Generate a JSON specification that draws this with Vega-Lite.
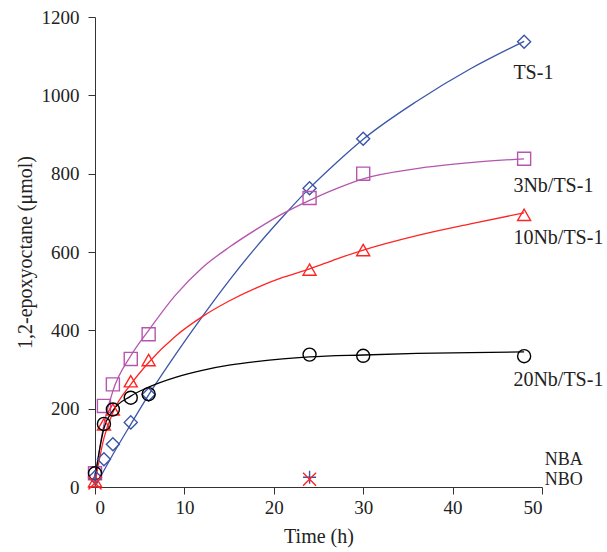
{
  "$schema": "https://vega.github.io/schema/vega-lite/v6.json",
  "width": 447,
  "height": 470,
  "autosize": {"type": "none"},
  "padding": {"left": 95, "top": 17, "right": 65, "bottom": 65},
  "background": "white",
  "config": {
    "view": {"stroke": null},
    "font": "Liberation Serif",
    "axis": {
      "grid": false,
      "domainColor": "#333333",
      "tickColor": "#333333",
      "tickSize": 7,
      "labelFont": "Liberation Serif",
      "titleFont": "Liberation Serif",
      "labelFontSize": 19,
      "titleFontSize": 20,
      "labelColor": "#222222",
      "titleColor": "#222222",
      "titleFontWeight": "normal"
    }
  },
  "datasets": {
    "pts": [
      {"series": "TS-1", "time": 0, "value": 25},
      {"series": "TS-1", "time": 1, "value": 71},
      {"series": "TS-1", "time": 2, "value": 109},
      {"series": "TS-1", "time": 4, "value": 165},
      {"series": "TS-1", "time": 6, "value": 236},
      {"series": "TS-1", "time": 24, "value": 763},
      {"series": "TS-1", "time": 30, "value": 889},
      {"series": "TS-1", "time": 48, "value": 1137},
      {"series": "3Nb/TS-1", "time": 0, "value": 35},
      {"series": "3Nb/TS-1", "time": 1, "value": 207},
      {"series": "3Nb/TS-1", "time": 2, "value": 262},
      {"series": "3Nb/TS-1", "time": 4, "value": 327},
      {"series": "3Nb/TS-1", "time": 6, "value": 390},
      {"series": "3Nb/TS-1", "time": 24, "value": 738},
      {"series": "3Nb/TS-1", "time": 30, "value": 800},
      {"series": "3Nb/TS-1", "time": 48, "value": 838},
      {"series": "10Nb/TS-1", "time": 0, "value": 15},
      {"series": "10Nb/TS-1", "time": 1, "value": 160},
      {"series": "10Nb/TS-1", "time": 2, "value": 198},
      {"series": "10Nb/TS-1", "time": 4, "value": 270},
      {"series": "10Nb/TS-1", "time": 6, "value": 324},
      {"series": "10Nb/TS-1", "time": 24, "value": 555},
      {"series": "10Nb/TS-1", "time": 30, "value": 605},
      {"series": "10Nb/TS-1", "time": 48, "value": 695},
      {"series": "20Nb/TS-1", "time": 0, "value": 35},
      {"series": "20Nb/TS-1", "time": 1, "value": 161},
      {"series": "20Nb/TS-1", "time": 2, "value": 198},
      {"series": "20Nb/TS-1", "time": 4, "value": 228},
      {"series": "20Nb/TS-1", "time": 6, "value": 237},
      {"series": "20Nb/TS-1", "time": 24, "value": 338},
      {"series": "20Nb/TS-1", "time": 30, "value": 335},
      {"series": "20Nb/TS-1", "time": 48, "value": 334},
      {"series": "NBA", "time": 0, "value": 20},
      {"series": "NBA", "time": 24, "value": 25},
      {"series": "NBO", "time": 0, "value": 10},
      {"series": "NBO", "time": 24, "value": 20}
    ],
    "fit": [
      {"series": "TS-1", "time": 0, "value": 0},
      {"series": "TS-1", "time": 1, "value": 42},
      {"series": "TS-1", "time": 2, "value": 83},
      {"series": "TS-1", "time": 4, "value": 160},
      {"series": "TS-1", "time": 6, "value": 235},
      {"series": "TS-1", "time": 9, "value": 338},
      {"series": "TS-1", "time": 12, "value": 435},
      {"series": "TS-1", "time": 15, "value": 527},
      {"series": "TS-1", "time": 18, "value": 612},
      {"series": "TS-1", "time": 21, "value": 690},
      {"series": "TS-1", "time": 24, "value": 763},
      {"series": "TS-1", "time": 27, "value": 828},
      {"series": "TS-1", "time": 30, "value": 888},
      {"series": "TS-1", "time": 36, "value": 985},
      {"series": "TS-1", "time": 42, "value": 1068},
      {"series": "TS-1", "time": 48, "value": 1138},
      {"series": "3Nb/TS-1", "time": 0, "value": 20},
      {"series": "3Nb/TS-1", "time": 1, "value": 160},
      {"series": "3Nb/TS-1", "time": 2, "value": 245},
      {"series": "3Nb/TS-1", "time": 4, "value": 335},
      {"series": "3Nb/TS-1", "time": 6, "value": 400},
      {"series": "3Nb/TS-1", "time": 9, "value": 490},
      {"series": "3Nb/TS-1", "time": 12, "value": 560},
      {"series": "3Nb/TS-1", "time": 15, "value": 612},
      {"series": "3Nb/TS-1", "time": 18, "value": 657},
      {"series": "3Nb/TS-1", "time": 21, "value": 698},
      {"series": "3Nb/TS-1", "time": 24, "value": 732},
      {"series": "3Nb/TS-1", "time": 27, "value": 762},
      {"series": "3Nb/TS-1", "time": 30, "value": 787},
      {"series": "3Nb/TS-1", "time": 36, "value": 813},
      {"series": "3Nb/TS-1", "time": 42, "value": 828},
      {"series": "3Nb/TS-1", "time": 48, "value": 838},
      {"series": "10Nb/TS-1", "time": 0, "value": 10},
      {"series": "10Nb/TS-1", "time": 1, "value": 125},
      {"series": "10Nb/TS-1", "time": 2, "value": 190},
      {"series": "10Nb/TS-1", "time": 4, "value": 262},
      {"series": "10Nb/TS-1", "time": 6, "value": 318},
      {"series": "10Nb/TS-1", "time": 9, "value": 385},
      {"series": "10Nb/TS-1", "time": 12, "value": 435},
      {"series": "10Nb/TS-1", "time": 15, "value": 475},
      {"series": "10Nb/TS-1", "time": 18, "value": 508},
      {"series": "10Nb/TS-1", "time": 21, "value": 535},
      {"series": "10Nb/TS-1", "time": 24, "value": 557},
      {"series": "10Nb/TS-1", "time": 27, "value": 582},
      {"series": "10Nb/TS-1", "time": 30, "value": 605},
      {"series": "10Nb/TS-1", "time": 36, "value": 642},
      {"series": "10Nb/TS-1", "time": 42, "value": 672},
      {"series": "10Nb/TS-1", "time": 48, "value": 700},
      {"series": "20Nb/TS-1", "time": 0, "value": 25},
      {"series": "20Nb/TS-1", "time": 1, "value": 150},
      {"series": "20Nb/TS-1", "time": 2, "value": 195},
      {"series": "20Nb/TS-1", "time": 4, "value": 232},
      {"series": "20Nb/TS-1", "time": 6, "value": 255},
      {"series": "20Nb/TS-1", "time": 9, "value": 280},
      {"series": "20Nb/TS-1", "time": 12, "value": 298},
      {"series": "20Nb/TS-1", "time": 15, "value": 311},
      {"series": "20Nb/TS-1", "time": 18, "value": 320},
      {"series": "20Nb/TS-1", "time": 21, "value": 327},
      {"series": "20Nb/TS-1", "time": 24, "value": 332},
      {"series": "20Nb/TS-1", "time": 30, "value": 337},
      {"series": "20Nb/TS-1", "time": 36, "value": 341},
      {"series": "20Nb/TS-1", "time": 42, "value": 343},
      {"series": "20Nb/TS-1", "time": 48, "value": 345}
    ],
    "labels": [
      {"label": "TS-1", "time": 46.8, "value": 1056},
      {"label": "3Nb/TS-1", "time": 46.8, "value": 769},
      {"label": "10Nb/TS-1", "time": 46.8, "value": 635},
      {"label": "20Nb/TS-1", "time": 46.8, "value": 273}
    ],
    "keylabels": [
      {"label": "NBA", "time": 50.3, "value": 68},
      {"label": "NBO", "time": 50.3, "value": 17}
    ]
  },
  "layer": [
    {
      "data": {"name": "fit"},
      "mark": {"type": "line", "interpolate": "monotone", "strokeWidth": 1.3, "clip": false},
      "encoding": {
        "x": {"field": "time", "type": "quantitative", "scale": {"domain": [0, 50]},
              "axis": {"title": "Time (h)", "values": [0, 10, 20, 30, 40, 50], "format": "d", "labelPadding": 4, "titlePadding": 9}},
        "y": {"field": "value", "type": "quantitative", "scale": {"domain": [0, 1200]},
              "axis": {"title": "1,2-epoxyoctane (μmol)", "values": [0, 200, 400, 600, 800, 1000, 1200], "format": "d", "labelPadding": 9, "titlePadding": 6}},
        "color": {"field": "series", "type": "nominal", "legend": null,
                  "scale": {"domain": ["TS-1", "3Nb/TS-1", "10Nb/TS-1", "20Nb/TS-1", "NBA", "NBO"],
                            "range": ["#3a56a8", "#b556ad", "#ff2424", "#000000", "#3a56a8", "#ff2424"]}},
        "detail": {"field": "series"}
      }
    },
    {
      "data": {"name": "pts"},
      "mark": {"type": "point", "filled": false, "strokeWidth": 1.4, "opacity": 1, "clip": false},
      "encoding": {
        "x": {"field": "time", "type": "quantitative"},
        "y": {"field": "value", "type": "quantitative"},
        "color": {"field": "series", "type": "nominal", "legend": null},
        "shape": {"field": "series", "type": "nominal", "legend": null,
                  "scale": {"domain": ["TS-1", "3Nb/TS-1", "10Nb/TS-1", "20Nb/TS-1", "NBA", "NBO"],
                            "range": ["diamond", "square", "triangle-up", "circle", "M-1,0L1,0M0,-1L0,1", "M-1,-1L1,1M-1,1L1,-1"]}},
        "size": {"value": 170}
      }
    },
    {
      "data": {"name": "labels"},
      "mark": {"type": "text", "align": "left", "baseline": "middle", "fontSize": 20, "font": "Liberation Serif", "color": "#222222", "clip": false},
      "encoding": {
        "x": {"field": "time", "type": "quantitative"},
        "y": {"field": "value", "type": "quantitative"},
        "text": {"field": "label"}
      }
    },
    {
      "data": {"name": "keylabels"},
      "mark": {"type": "text", "align": "left", "baseline": "middle", "fontSize": 18, "font": "Liberation Serif", "color": "#222222", "clip": false},
      "encoding": {
        "x": {"field": "time", "type": "quantitative"},
        "y": {"field": "value", "type": "quantitative"},
        "text": {"field": "label"}
      }
    }
  ]
}
